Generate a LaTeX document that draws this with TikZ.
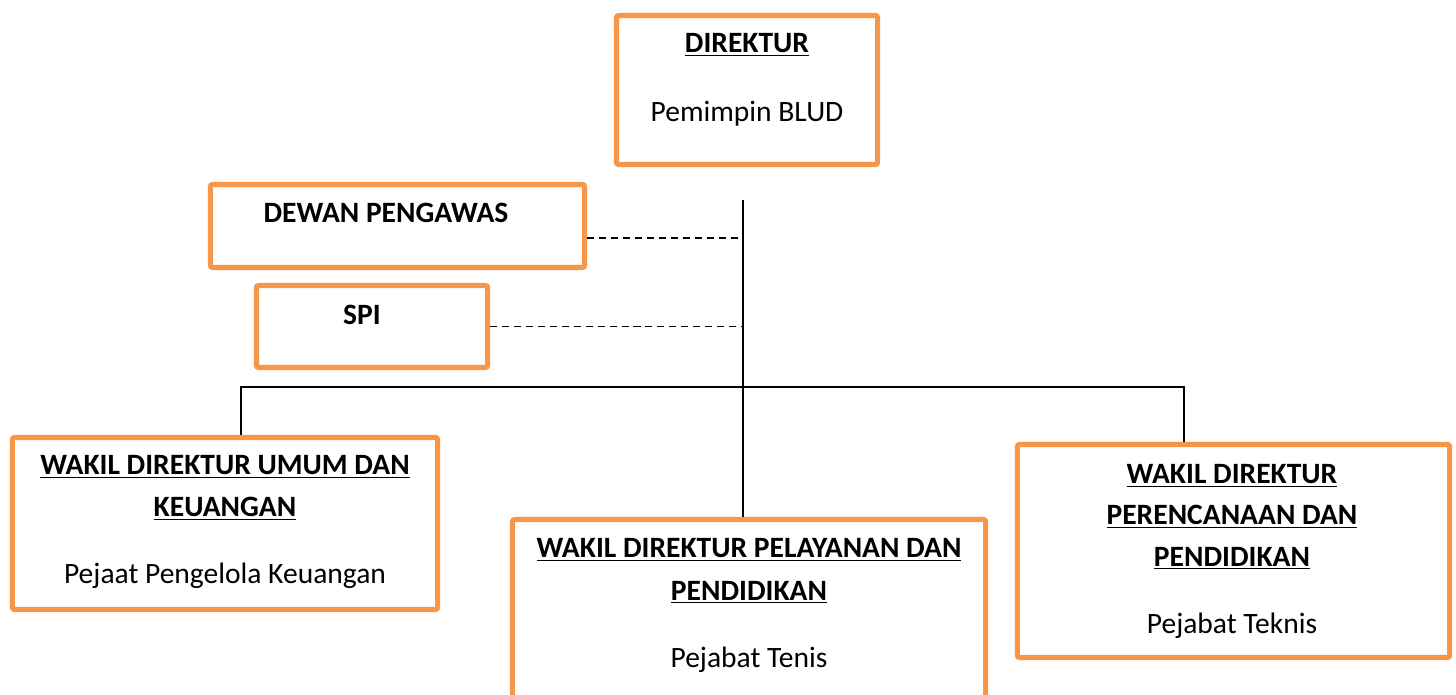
\documentclass[tikz,border=0pt]{standalone}
\usepackage{fontspec}
\setmainfont{Carlito}
\definecolor{boxorange}{HTML}{F79646}
\begin{document}
\begin{tikzpicture}[x=0.025cm,y=-0.025cm,
  org box/.style={draw=boxorange,line width=3.6pt,rounded corners=1.5pt,inner sep=0pt},
  title line/.style={anchor=base,font=\fontsize{21}{25}\selectfont\bfseries},
  sub line/.style={anchor=base,font=\fontsize{21}{25}\selectfont},
  link/.style={draw=black,line width=1.2pt},
  dash link/.style={draw=black,line width=1.2pt,dash pattern=on 5pt off 3.5pt}]
\clip (0,0) rectangle (1456,695);
% boxes
\node[org box,minimum width=6.525cm,minimum height=3.725cm] (dir) at (747,90) {};
\node[org box,minimum width=9.35cm,minimum height=2.075cm] (dewan) at (397.5,226) {};
\node[org box,minimum width=5.775cm,minimum height=2.05cm] (spi) at (372,326.5) {};
\node[org box,minimum width=10.625cm,minimum height=4.3cm] (wd1) at (225,523.5) {};
\node[org box,minimum width=11.825cm,minimum height=5.5cm] (wd2) at (749,629.5) {};
\node[org box,minimum width=10.8cm,minimum height=5.325cm] (wd3) at (1233.5,551) {};
% texts
\node[title line] (dir t) at (747,53) {\underline{DIREKTUR}};
\node[sub line] (dir s) at (747,122) {Pemimpin BLUD};
\node[title line] (dewan t) at (386,223) {DEWAN PENGAWAS};
\node[title line] (spi t) at (362,325) {SPI};
\node[title line] (wd1 t1) at (225,475) {\underline{WAKIL DIREKTUR UMUM DAN}};
\node[title line] (wd1 t2) at (225,517) {\underline{KEUANGAN}};
\node[sub line] (wd1 s) at (225,583) {Pejaat Pengelola Keuangan};
\node[title line] (wd2 t1) at (749,558) {\underline{WAKIL DIREKTUR PELAYANAN DAN}};
\node[title line] (wd2 t2) at (749,600) {\underline{PENDIDIKAN}};
\node[sub line] (wd2 s) at (749,667) {Pejabat Tenis};
\node[title line] (wd3 t1) at (1232,484) {\underline{WAKIL DIREKTUR}};
\node[title line] (wd3 t2) at (1232,525) {\underline{PERENCANAAN DAN}};
\node[title line] (wd3 t3) at (1232,566) {\underline{PENDIDIKAN}};
\node[sub line] (wd3 s) at (1232,633) {Pejabat Teknis};
% connectors
\coordinate (hub) at (743,200);
\coordinate (barL) at (241,387);
\coordinate (barR) at (1184,387);
\draw[link] (hub) -- (hub |- wd2.north);
\draw[link] (barL |- wd1.north) -- (barL) -- (barR) -- (barR |- wd3.north);
\draw[dash link] ([yshift=-0.3cm]dewan.east) -- ([yshift=-0.3cm]dewan.east -| hub);
\draw[dash link] (spi.east) -- (spi.east -| hub);
\end{tikzpicture}
\end{document}
